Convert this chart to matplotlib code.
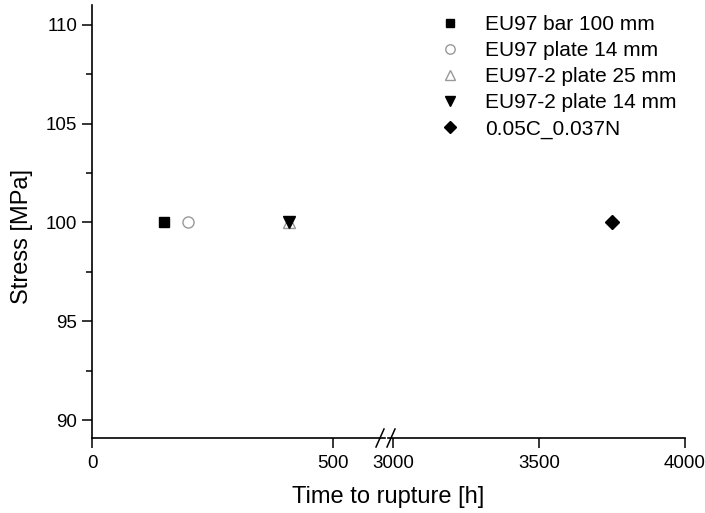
import matplotlib
matplotlib.use("Agg")
import matplotlib.pyplot as plt
from matplotlib.ticker import MultipleLocator

plt.rcParams['font.family'] = ['Liberation Sans', 'DejaVu Sans']

# data
labels = ['EU97 bar 100 mm', 'EU97 plate 14 mm', 'EU97-2 plate 25 mm',
          'EU97-2 plate 14 mm', '0.05C_0.037N']
times = [150, 200, 408, 408, 3750]
stress = [100, 100, 100, 100, 100]
markers = ['s', 'o', '^', 'v', 'D']
faces = ['black', 'none', 'none', 'black', 'black']
edges = ['black', '#999999', '#999999', 'black', 'black']
sizes = [7, 8, 9, 8.5, 7]

fig = plt.figure(figsize=(7.05, 5.13), dpi=100)
W, H = 705, 513
x0, xb1, xb2, x1 = 92, 385, 388, 685
ybot, ytop = 438, 5
axL = fig.add_axes([x0 / W, 1 - ybot / H, (xb1 - x0) / W, (ybot - ytop) / H])
axR = fig.add_axes([xb2 / W, 1 - ybot / H, (x1 - xb2) / W, (ybot - ytop) / H], sharey=axL)

axL.set_xlim(0, 608)
axR.set_xlim(2983, 4000)
axL.set_ylim(89.1, 111)

for t, s, m, fc, ec, ms, lab in zip(times, stress, markers, faces, edges, sizes, labels):
    for ax in (axL, axR):
        ax.plot([t], [s], linestyle='none', marker=m, markerfacecolor=fc,
                markeredgecolor=ec, markersize=ms, label=lab)

for ax in (axL, axR):
    ax.spines['top'].set_visible(False)
    ax.spines['right'].set_visible(False)
    ax.spines['bottom'].set_linewidth(1.2)
    ax.patch.set_visible(False)
axR.spines['left'].set_visible(False)
axR.tick_params(axis='y', left=False, labelleft=False, which='both')
axL.spines['left'].set_linewidth(1.2)

axL.set_xticks([0, 500])
axR.set_xticks([3000, 3500, 4000])
axL.yaxis.set_major_locator(MultipleLocator(5))
axL.yaxis.set_minor_locator(MultipleLocator(2.5))
for ax in (axL, axR):
    ax.tick_params(axis='both', which='major', labelsize=13.5, length=7, width=1.1, direction='out')
    ax.tick_params(axis='x', which='major', pad=5)
    ax.tick_params(axis='y', which='minor', length=4, width=1.1)

axL.set_ylabel('Stress [MPa]', fontsize=17)
axL.yaxis.set_label_coords((33 - x0) / (xb1 - x0), (ybot - 236) / (ybot - ytop))
fig.text((x0 + x1) / 2 / W, 1 - 497 / H, 'Time to rupture [h]', fontsize=17,
         ha='center', va='center')

# break marks
for xp in (380, 391):
    fig.add_artist(plt.Line2D([(xp - 4) / W, (xp + 4) / W],
                              [1 - (ybot + 9) / H, 1 - (ybot - 9) / H],
                              color='black', lw=1.1))

handles, labs = axR.get_legend_handles_labels()
axR.legend(handles, labs, loc='upper right', bbox_to_anchor=(1.035, 1.02), frameon=False,
           fontsize=15, handletextpad=0.7, labelspacing=0.34, markerscale=0.85)

fig.savefig('out.png', dpi=100)
